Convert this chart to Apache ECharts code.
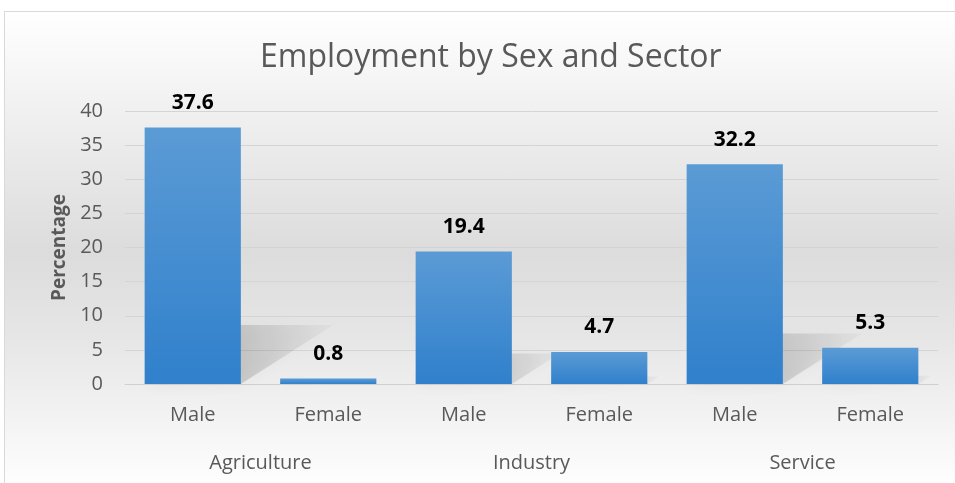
<!DOCTYPE html>
<html><head><meta charset="utf-8">
<script src="https://cdn.jsdelivr.net/npm/echarts@6/dist/echarts.min.js"></script>
<style>
html,body{margin:0;padding:0;background:#fff;}
#frame{position:absolute;left:4px;top:11px;width:960px;height:480px;border:1px solid #d9d9d9;
 background:linear-gradient(to bottom,#ffffff 0%,#f2f2f2 18%,#dcdcdc 50%,#e6e6e6 68%,#ffffff 100%);}
#chart{position:absolute;left:0;top:0;width:955px;height:483px;}
</style></head>
<body>
<div id="frame"></div>
<div id="chart"></div>
<script>
const titleText = 'Employment by Sex and Sector';
const categories = ['Male','Female','Male','Female','Male','Female'];
const groups = ['Agriculture','Industry','Service'];
const values = [37.6, 0.8, 19.4, 4.7, 32.2, 5.3];
const yTicks = {min:0, max:40, interval:5};
const yName = 'Percentage';

const chart = echarts.init(document.getElementById('chart'), null, {renderer:'canvas'});
const font = '"Open Sans", "Noto Sans", sans-serif';
chart.setOption({
  backgroundColor:'transparent',
  animation:false,
  title:{text:titleText, left:255, top:37,
    textStyle:{fontFamily:font, fontWeight:400, fontSize:32, color:'#595959'}},
  grid:{left:125, right:17, top:111, bottom:99},
  xAxis:[
    {type:'category', data:categories, axisLine:{lineStyle:{color:'#d0d0d0', width:1}},
     axisTick:{show:false}, axisLabel:{fontFamily:font, fontSize:20, color:'#595959', margin:21}},
    {type:'category', data:groups, position:'bottom', offset:47, axisLine:{show:false},
     axisTick:{show:false}, axisLabel:{fontFamily:font, fontSize:20, color:'#595959', margin:22}}
  ],
  yAxis:{type:'value', min:yTicks.min, max:yTicks.max, interval:yTicks.interval,
    name:yName, nameLocation:'middle', nameGap:56, nameRotate:90,
    nameTextStyle:{fontFamily:font, fontWeight:'bold', fontSize:19, color:'#595959'},
    axisLine:{show:false}, axisTick:{show:false},
    axisLabel:{fontFamily:font, fontSize:20, color:'#595959', margin:22},
    splitLine:{lineStyle:{color:'#d4d4d4', width:1}}},
  series:[
    {type:'custom', xAxisIndex:0, z:1, silent:true,
     data: values.map((v,i)=>[i,v]),
     renderItem:function(params, api){
       const i = api.value(0), v = api.value(1);
       const base = api.coord([i,0]);
       const top = api.coord([i,v]);
       const bw = api.size([1,0])[0]*0.71;
       const h = base[1]-top[1];
       const x0 = base[0]-bw/2, x1 = base[0]+bw/2, y0 = base[1];
       const dx = h*0.36, dy = h*0.23;
       return {type:'polygon',
         shape:{points:[[x0,y0],[x1,y0],[x1+dx,y0-dy],[x0+dx,y0-dy]]},
         style:{fill:new echarts.graphic.LinearGradient(0,1,1,0,[
            {offset:0,color:'rgba(0,0,0,0.26)'},{offset:1,color:'rgba(0,0,0,0.02)'}]),
            shadowBlur:14, shadowColor:'rgba(0,0,0,0.2)'}};
     }},
    {type:'bar', xAxisIndex:0, z:2, data:values, barWidth:'71%',
     itemStyle:{color:new echarts.graphic.LinearGradient(0,0,0,1,[
        {offset:0,color:'#5b9bd5'},{offset:1,color:'#3080cc'}])},
     label:{show:true, position:'top', distance:14, fontFamily:font, fontWeight:'bold',
       fontSize:21, color:'#000'}}
  ]
});
</script>
</body></html>
